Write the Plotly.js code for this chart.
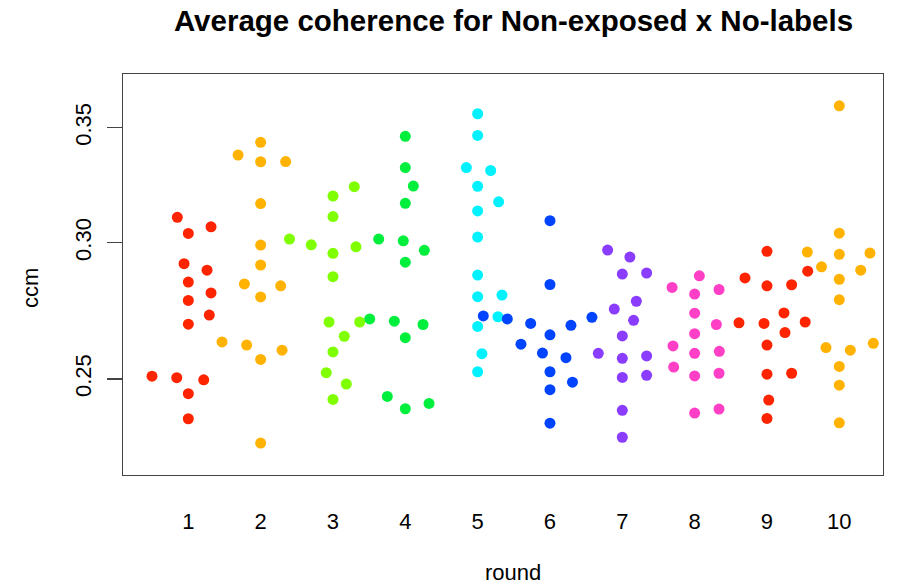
<!DOCTYPE html>
<html>
<head>
<meta charset="utf-8">
<script src="https://cdn.plot.ly/plotly-3.0.1.min.js"></script>
<style>
  html, body { margin: 0; padding: 0; background: #ffffff; }
  #chart { width: 897px; height: 588px; }
</style>
</head>
<body>
<div id="chart"></div>
<script>
// Average ccm per round, one array per round
const ccm1  = [0.3104, 0.3038, 0.3065, 0.2917, 0.2892, 0.2846, 0.2805, 0.2777, 0.2723, 0.2690, 0.2509, 0.2504, 0.2497, 0.2451, 0.2370];
const ccm2  = [0.3432, 0.3374, 0.3344, 0.3345, 0.3162, 0.2991, 0.2912, 0.2839, 0.2832, 0.2790, 0.2627, 0.2616, 0.2598, 0.2566, 0.2294];
const ccm3  = [0.3194, 0.3234, 0.3107, 0.3015, 0.2992, 0.2958, 0.2984, 0.2867, 0.2698, 0.2698, 0.2647, 0.2592, 0.2521, 0.2483, 0.2432];
const ccm4  = [0.3460, 0.3318, 0.3237, 0.3163, 0.3015, 0.3008, 0.2970, 0.2923, 0.2709, 0.2701, 0.2689, 0.2642, 0.2442, 0.2402, 0.2419];
const ccm5  = [0.3566, 0.3464, 0.3318, 0.3305, 0.3236, 0.3169, 0.3131, 0.3023, 0.2873, 0.2797, 0.2791, 0.2717, 0.2682, 0.2586, 0.2524];
const ccm6  = [0.3090, 0.2837, 0.2720, 0.2709, 0.2693, 0.2686, 0.2715, 0.2652, 0.2619, 0.2588, 0.2572, 0.2524, 0.2489, 0.2464, 0.2356];
const ccm7  = [0.2971, 0.2943, 0.2877, 0.2881, 0.2774, 0.2745, 0.2704, 0.2648, 0.2587, 0.2570, 0.2578, 0.2505, 0.2512, 0.2397, 0.2312];
const ccm8  = [0.2826, 0.2870, 0.2818, 0.2801, 0.2730, 0.2689, 0.2656, 0.2613, 0.2587, 0.2594, 0.2540, 0.2510, 0.2519, 0.2388, 0.2401];
const ccm9  = [0.2966, 0.2862, 0.2832, 0.2836, 0.2888, 0.2731, 0.2695, 0.2693, 0.2660, 0.2698, 0.2616, 0.2516, 0.2519, 0.2430, 0.2371];
const ccm10 = [0.3604, 0.3039, 0.2963, 0.2954, 0.2959, 0.2905, 0.2892, 0.2857, 0.2780, 0.2607, 0.2598, 0.2622, 0.2542, 0.2479, 0.2357];

// Beeswarm side-offsets of each point (in round units)
const swarm1  = [-0.152, 0, 0.314, -0.059, 0.259, 0, 0.314, 0, 0.290, 0, -0.502, -0.160, 0.213, 0, 0];
const swarm2  = [0, -0.312, 0, 0.346, 0, 0, 0, -0.225, 0.277, 0, -0.534, -0.194, 0.296, 0, 0];
const swarm3  = [0, 0.294, 0, -0.601, -0.300, 0, 0.318, 0, -0.055, 0.369, 0.156, 0, -0.093, 0.184, 0];
const swarm4  = [0, 0, 0.111, 0, -0.368, -0.028, 0.263, 0, -0.492, -0.152, 0.245, 0, -0.249, 0, 0.328];
const swarm5  = [0, 0, -0.156, 0.180, 0, 0.290, 0, 0, 0, 0.336, 0, 0.281, 0, 0.059, 0];
const swarm6  = [0, 0, -0.922, -0.590, -0.267, 0.290, 0.580, 0, -0.401, -0.104, 0.221, 0, 0.311, 0, 0];
const swarm7  = [-0.203, 0.105, 0, 0.336, 0.194, -0.111, 0.156, 0, -0.332, 0, 0.336, 0, 0.336, 0, 0];
const swarm8  = [-0.312, 0.065, 0.337, 0, 0, 0.300, 0, -0.299, 0, 0.341, -0.290, 0, 0.337, 0, 0.337];
const swarm9  = [0, -0.304, 0, 0.341, 0.563, 0.235, -0.387, -0.041, 0.249, 0.528, 0, 0, 0.341, 0.024, 0];
const swarm10 = [0, 0, -0.442, 0, 0.424, -0.246, 0.296, 0, 0, -0.184, 0.152, 0.470, 0, 0, 0];

const roundLabels = ["1", "2", "3", "4", "5", "6", "7", "8", "9", "10"];
const yTickVals = [0.25, 0.30, 0.35];
const yTickText = ["0.25", "0.30", "0.35"];

const ccmByRound = [ccm1, ccm2, ccm3, ccm4, ccm5, ccm6, ccm7, ccm8, ccm9, ccm10];
const swarmByRound = [swarm1, swarm2, swarm3, swarm4, swarm5, swarm6, swarm7, swarm8, swarm9, swarm10];

// colour cycle used for the rounds
const palette = ["#ff2400", "#ffb300", "#80ff00", "#00ee3c", "#00f2ff",
                 "#0044ff", "#8a3dff", "#ff3fc6", "#ff2400", "#ffb300"];

const traces = ccmByRound.map((vals, i) => ({
  type: "scatter",
  mode: "markers",
  x: vals.map((v, j) => (i + 1) + swarmByRound[i][j]),
  y: vals,
  marker: { color: palette[i], size: 11, line: { width: 0 } },
  hoverinfo: "x+y",
  showlegend: false
}));

const baseFont = { family: "Liberation Sans, Arial, Helvetica, sans-serif", color: "#000000" };

const layout = {
  width: 897,
  height: 588,
  margin: { l: 123, r: 14, t: 74, b: 113, pad: 0 },
  paper_bgcolor: "#ffffff",
  plot_bgcolor: "#ffffff",
  showlegend: false,
  title: {
    text: "<b>Average coherence for Non-exposed x No-labels</b>",
    font: Object.assign({}, baseFont, { size: 29.5 }),
    x: 513.5 / 897, xref: "container", xanchor: "center",
    y: 1 - 21 / 588, yref: "container", yanchor: "middle"
  },
  xaxis: {
    range: [0.097, 10.604],
    tickvals: roundLabels.map((_, i) => i + 1),
    ticktext: roundLabels,
    ticks: "",
    ticklabelstandoff: 26,
    tickfont: Object.assign({}, baseFont, { size: 22 }),
    showline: true, mirror: true, linecolor: "#444444", linewidth: 1.3,
    showgrid: false, zeroline: false, automargin: false
  },
  yaxis: {
    type: "log",
    range: [-0.65797, -0.42469],
    tickvals: yTickVals,
    ticktext: yTickText,
    ticks: "outside", ticklen: 15, tickwidth: 1.3, tickcolor: "#444444",
    tickangle: -90,
    ticklabelstandoff: 7,
    tickfont: Object.assign({}, baseFont, { size: 22 }),
    showline: true, mirror: true, linecolor: "#444444", linewidth: 1.3,
    showgrid: false, zeroline: false, automargin: false
  },
  annotations: [
    {
      text: "round", xref: "paper", yref: "paper",
      x: (513 - 123) / 760, y: -(572 - 475) / 401,
      xanchor: "center", yanchor: "middle", showarrow: false,
      font: Object.assign({}, baseFont, { size: 22 })
    },
    {
      text: "ccm", xref: "paper", yref: "paper",
      x: -(123 - 30) / 760, y: (475 - 288) / 401,
      xanchor: "center", yanchor: "middle", showarrow: false, textangle: -90,
      font: Object.assign({}, baseFont, { size: 22 })
    }
  ]
};

Plotly.newPlot("chart", traces, layout, { displayModeBar: false, staticPlot: true });
</script>
</body>
</html>
